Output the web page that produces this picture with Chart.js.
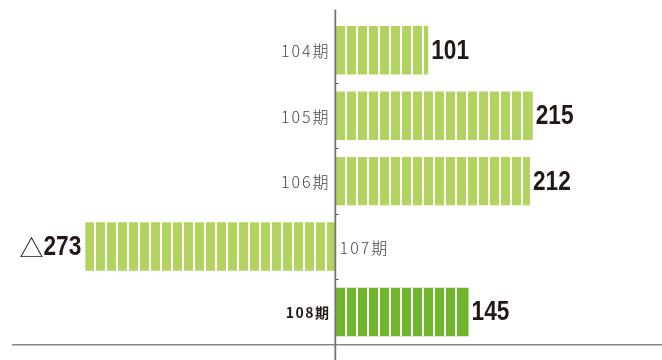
<html>
<head>
<meta charset="utf-8">
<title>経常利益の推移</title>
<style>
html, body {
  margin:0px;
  background:#fff;
}
</style>
<script src="https://cdn.jsdelivr.net/npm/chart.js@4/dist/chart.umd.min.js"></script>
</head>
<body>
<div style="position: relative; width: 662px; height: 360px;">
<canvas id="profitChart"></canvas>
</div>
<script>
// periods and results (negative = loss, shown with △)
const periods = ['104期', '105期', '106期', '107期', '108期'];
const results = [101, 215, 212, -273, 145];
const currentPeriod = '108期';

const barColor = '#b3d361';
const currentColor = '#70b62c';
const segWidth = 9;  // green segment width
const gapWidth = 2;  // white gap between segments

// cut each bar into vertical segments, starting from the bar's left end
const stripePlugin = {
  id: 'stripes',
  afterDatasetsDraw(chart) {
    const ctx = chart.ctx;
    ctx.save();
    ctx.fillStyle = '#fff';
    chart.getDatasetMeta(0).data.forEach(bar => {
      const p = bar.getProps(['x', 'y', 'base', 'height'], true);
      const left = Math.round(Math.min(p.x, p.base));
      const right = Math.max(p.x, p.base);
      for (let s = left + segWidth; s + gapWidth < right - 3; s += segWidth + gapWidth) {
        ctx.fillRect(s, p.y - p.height / 2, gapWidth, p.height);
      }
    });
    ctx.restore();
  }
};

// draw text squeezed horizontally (condensed numerals)
function squeezedText(ctx, text, x, y, align, sx) {
  const w = ctx.measureText(text).width * sx;
  const left = align === 'right' ? x - w : x;
  ctx.save();
  ctx.textAlign = 'left';
  ctx.translate(left, y);
  ctx.scale(sx, 1);
  ctx.fillText(text, 0, 0);
  ctx.restore();
  return w;
}

// axis lines, ticks, period names and values
const labelPlugin = {
  id: 'labels',
  afterDraw(chart) {
    const ctx = chart.ctx;
    const xs = chart.scales.x, ys = chart.scales.y;
    const area = chart.chartArea;
    const zero = xs.getPixelForValue(0);
    ctx.save();

    // baseline
    ctx.strokeStyle = '#858585';
    ctx.lineWidth = 1.5;
    ctx.beginPath();
    ctx.moveTo(area.left, area.bottom);
    ctx.lineTo(area.right, area.bottom);
    ctx.stroke();

    // zero line
    ctx.strokeStyle = '#747474';
    ctx.lineWidth = 1.8;
    ctx.beginPath();
    ctx.moveTo(zero - 0.3, area.top - 8);
    ctx.lineTo(zero - 0.3, chart.height);
    ctx.stroke();

    // small ticks between periods
    ctx.lineWidth = 1;
    ctx.strokeStyle = '#555';
    for (let i = 0; i < periods.length - 1; i++) {
      const ty = Math.round((ys.getPixelForValue(i) + ys.getPixelForValue(i + 1)) / 2) + 0.5;
      ctx.beginPath();
      ctx.moveTo(zero, ty);
      ctx.lineTo(zero + 3, ty);
      ctx.stroke();
    }

    ctx.textBaseline = 'middle';
    const bars = chart.getDatasetMeta(0).data;
    periods.forEach((name, i) => {
      const cy = ys.getPixelForValue(i);
      const v = results[i];
      const current = name === currentPeriod;

      // period name, on the side of the axis away from the bar
      ctx.letterSpacing = current ? '1.5px' : '2px';
      ctx.font = current ? 'bold 14px "Noto Sans CJK JP"' : '300 16px "Noto Sans CJK JP"';
      ctx.fillStyle = current ? '#231815' : '#4a4748';
      if (v < 0) {
        ctx.textAlign = 'left';
        ctx.fillText(name, zero + 4, cy + 1);
      } else {
        ctx.textAlign = 'right';
        ctx.fillText(name, zero - 5, cy + 1);
      }

      // value at the bar's end
      const end = bars[i].getProps(['x'], true).x;
      ctx.letterSpacing = '0px';
      ctx.font = 'bold 27px "Liberation Sans", sans-serif';
      ctx.fillStyle = '#231815';
      const num = String(Math.abs(v));
      if (v < 0) {
        const w = squeezedText(ctx, num, end - 4, cy + 1, 'right', 0.84);
        ctx.font = '24px "Noto Sans CJK JP"';
        ctx.textAlign = 'right';
        ctx.fillText('△', end - 4 - w, cy + 1);
      } else {
        squeezedText(ctx, num, end + 3, cy + 1, 'left', 0.84);
      }
    });
    ctx.restore();
  }
};

const ctx = document.getElementById('profitChart');
const profitChart = new Chart(ctx, {
  type: 'bar',
  data: {
    labels: periods,
    datasets: [{
      data: results,
      backgroundColor: periods.map(p => p === currentPeriod ? currentColor : barColor),
      borderWidth: 0,
      barPercentage: 0.74,
      categoryPercentage: 1
    }]
  },
  options: {
    indexAxis: 'y',
    responsive: true,
    maintainAspectRatio: false,
    animation: false,
    layout: {
      padding: {left: 12, right: 0, top: 17.6, bottom: 15.3}
    },
    scales: {
      x: {display: false, min: -353, max: 356},
      y: {display: false}
    },
    plugins: {
      legend: {display: false},
      tooltip: {enabled: false}
    }
  },
  plugins: [stripePlugin, labelPlugin]
});
</script>
</body>
</html>
